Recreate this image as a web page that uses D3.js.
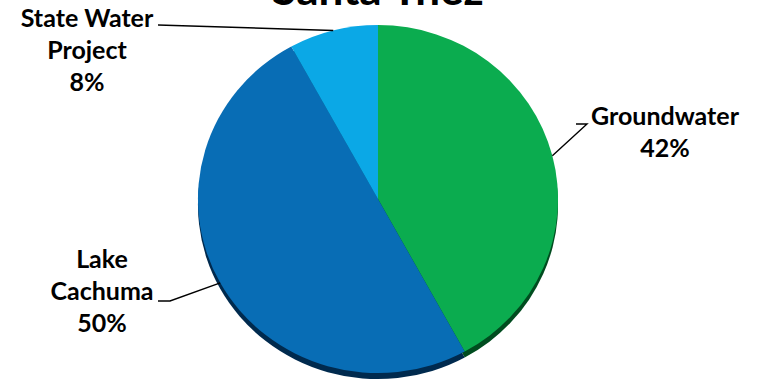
<!DOCTYPE html>
<html>
<head>
<meta charset="utf-8">
<script src="https://cdn.jsdelivr.net/npm/d3@7"></script>
<style>
  html, body { margin: 0; padding: 0; background: #fff; }
  svg { display: block; }
  text { font-family: Lato, "Open Sans", sans-serif; font-weight: 700; fill: #000; }
</style>
</head>
<body>
<svg id="chart" width="759" height="381"></svg>
<script>
// Chart data
const title = "Santa Ynez";
const sources = ["Groundwater", "Lake Cachuma", "State Water Project"];
const shares = [42, 50, 8];
const labelLines = [["Groundwater", "42%"], ["Lake", "Cachuma", "50%"], ["State Water", "Project", "8%"]];
const topColors = ["#0bac4f", "#086db5", "#0ba8e6"];
const sideColors = ["#004c1f", "#002a4e", "#04557a"];

const width = 759, height = 381;
const cx = 378, cy = 199;
const rx = 180, ry = 174;
const depth = 6;

const svg = d3.select("#chart");

// Title (partly cut off at top, like the source)
svg.append("text")
  .attr("x", cx)
  .attr("y", 5)
  .attr("text-anchor", "middle")
  .style("font-size", "44px")
  .text(title);

const pie = d3.pie().sort(null).value(d => d);
const arcs = pie(shares);
const arc = d3.arc().innerRadius(0).outerRadius(rx);

// Side / extrusion
svg.append("g")
  .attr("transform", `translate(${cx},${cy + depth}) scale(1,${ry / rx})`)
  .selectAll("path")
  .data(arcs)
  .join("path")
  .attr("d", arc)
  .attr("fill", (d, i) => sideColors[i]);

// Top face
svg.append("g")
  .attr("transform", `translate(${cx},${cy}) scale(1,${ry / rx})`)
  .selectAll("path")
  .data(arcs)
  .join("path")
  .attr("d", arc)
  .attr("fill", (d, i) => topColors[i]);

// Point on the ellipse edge at slice mid-angle
function edgePoint(d) {
  const a = (d.startAngle + d.endAngle) / 2;
  return [cx + rx * Math.sin(a), cy - ry * Math.cos(a)];
}

// Label layout: text center x, first baseline, leader elbow points
const labelPos = [
  { x: 665, y: 125, leader: [[576, 124], [587, 124]] },
  { x: 102, y: 268, leader: [[158, 301], [170, 301]] },
  { x: 87, y: 27, leader: [[158, 25]] }
];
const lineGap = 32;

arcs.forEach((d, i) => {
  const p = labelPos[i];
  const pts = p.leader.concat([edgePoint(d)]);
  svg.append("path")
    .attr("d", d3.line()(pts))
    .attr("fill", "none")
    .attr("stroke", "#000")
    .attr("stroke-width", 1.4);

  const t = svg.append("text")
    .attr("text-anchor", "middle")
    .style("font-size", "25px");
  labelLines[i].forEach((s, j) => {
    t.append("tspan")
      .attr("x", p.x)
      .attr("y", p.y + j * lineGap)
      .text(s);
  });
});
</script>
</body>
</html>
